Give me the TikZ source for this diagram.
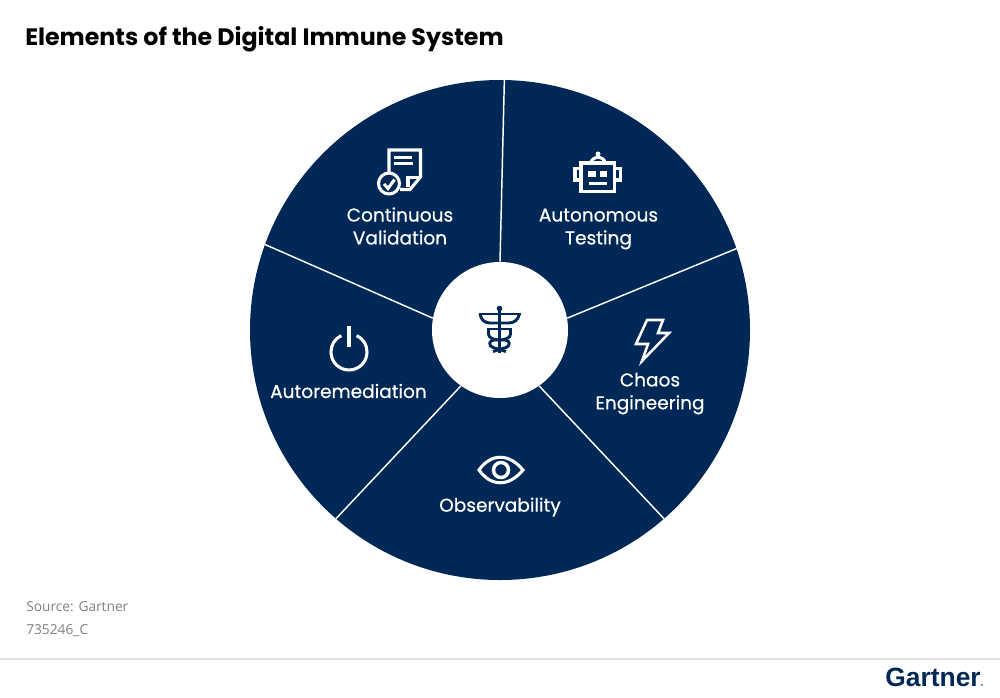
\documentclass[tikz,border=0pt]{standalone}
\usepackage{fontspec}
\setmainfont{Poppins}
\newfontfamily\labelfont{Poppins}[FakeBold=0.5]
\newfontfamily\notefont{Open Sans}
\newfontfamily\logofont{Liberation Sans}
\usepackage{xcolor}
\usetikzlibrary{positioning}
\definecolor{navy}{HTML}{002856}
\tikzset{
  seclabel/.style={text=white, font=\labelfont\fontsize{13.9}{17.2}\selectfont, align=center},
  spoke/.style={draw=white, line width=1.1pt},
  icon/.style={draw=white, line width=2.3pt, line join=miter},
  hubicon/.style={draw=navy, line width=2.2pt, line join=round},
  notetext/.style={text=black!50, font=\notefont\fontsize{10.3}{12}\selectfont, anchor=west}
}
\begin{document}
\begin{tikzpicture}[x=0.75pt,y=-0.75pt]
\useasboundingbox (0,0) rectangle (1000,697);
\fill[white] (0,0) rectangle (1000,697);

% Titulo
\node[font=\bfseries\fontsize{17.8}{22}\selectfont, anchor=west, inner sep=0pt] (title) at (25,39) {Elements of the Digital Immune System};

% Rueda
\node[circle, fill=navy, minimum size=375pt, inner sep=0pt] (wheel) at (500,330) {};
\node[circle, fill=white, minimum size=102pt, inner sep=0pt] (hub) at (500,330) {};
\draw[spoke] (hub.90) -- (wheel.89.6);
\draw[spoke] (hub.10) -- (wheel.19.6);
\draw[spoke] (hub.-55) -- (wheel.-49);
\draw[spoke] (hub.-125) -- (wheel.-131);
\draw[spoke] (hub.170) -- (wheel.160.4);

% Etiquetas
\node[seclabel] (validation) at (400,226) {Continuous\\Validation};
\node[seclabel] (testing) at (598.5,229) {Autonomous\\Testing};
\node[seclabel] (chaos) at (650,393.5) {Chaos\\Engineering};
\node[seclabel] (observ) at (500,507) {Observability};
\node[seclabel] (remedy) at (348.5,391) {Autoremediation};

% Icono documento
\draw[icon] (389,172) -- (389,150) -- (420.5,150) -- (420.5,177) -- (410,189.5) -- (400,189.5);
\draw[icon] (408,187) -- (408,177.5) -- (420.5,177.5);
\draw[icon] (394,157.5) -- (412,157.5);
\draw[icon] (394,163.5) -- (413,163.5);
\draw[icon, fill=navy] (389,183.5) circle[radius=10.5];
\draw[icon] (384,184) -- (388,188.5) -- (394.5,179.5);

% Icono robot
\draw[icon] (581,163) rectangle (614.5,191.5);
\draw[icon] (581,168.5) -- (575,168.5) -- (575,180) -- (581,180);
\draw[icon] (614.5,168.5) -- (620.5,168.5) -- (620.5,180) -- (614.5,180);
\draw[icon] (590.5,163) .. controls (592,159) and (595,157) .. (598,157) .. controls (601,157) and (604,159) .. (605.5,163);
\fill[white] (598,154) circle[radius=2.5];
\fill[white] (588,171) rectangle (596,177);
\fill[white] (600,171) rectangle (607,177);
\draw[icon] (589,183.5) -- (607,183.5);

% Icono rayo
\draw[icon, line width=1.9pt] (647,320) -- (663,320) -- (658,333) -- (669,333) -- (642,361) -- (648,344) -- (636,344) -- cycle;

% Icono encendido
\draw[icon] (349,326) -- (349,347);
\draw[icon] (356.6,335.7) .. controls (363.5,338.8) and (367,345) .. (367,352) .. controls (367,362) and (359,370) .. (349,370) .. controls (339,370) and (331,362) .. (331,352) .. controls (331,345) and (334.5,338.8) .. (341.4,335.7);

% Icono ojo
\draw[icon] (479,470) .. controls (491,453) and (509,453) .. (523,470) .. controls (509,487) and (491,487) .. (479,470) -- cycle;
\draw[icon, line width=2.6pt] (501,470) circle[radius=7.5];

% Icono central
\draw[hubicon, line width=2.4pt] (499.5,308) -- (499.5,353);
\fill[navy] (499.5,308.5) circle[radius=2.8];
\draw[hubicon] (479,314) -- (521,314);
\draw[hubicon] (480,314) .. controls (481,320) and (485,323) .. (490,323) -- (509,323) .. controls (514,323) and (518,320) .. (519.5,314);
\draw[hubicon] (488.5,329) -- (510.5,329);
\draw[hubicon] (488.5,328) -- (488.5,334) .. controls (488.5,338) and (494,340) .. (500,340) -- (505,340) .. controls (510,340) and (511,346) .. (506,347.5) -- (493,351.5);
\draw[hubicon] (510.5,328) -- (510.5,334) .. controls (510.5,338) and (505,340) .. (499,340) -- (494,340) .. controls (489,340) and (488,346) .. (493,347.5) -- (506,351.5);

% Pie
\node[notetext, inner sep=0pt] (source) at (26,606.5) {Source: Gartner};
\node[notetext, inner sep=0pt] (docid) at (26,631) {735246\_C};
\draw[black!12, line width=0.8pt] (0,659) -- (1000,659);
\node[text=navy, font=\logofont\bfseries\fontsize{19.8}{22}\selectfont, anchor=east, inner sep=0pt] (logo) at (981,677) {Gartner};
\fill[navy] (982,685) circle[radius=0.9];
\end{tikzpicture}
\end{document}
